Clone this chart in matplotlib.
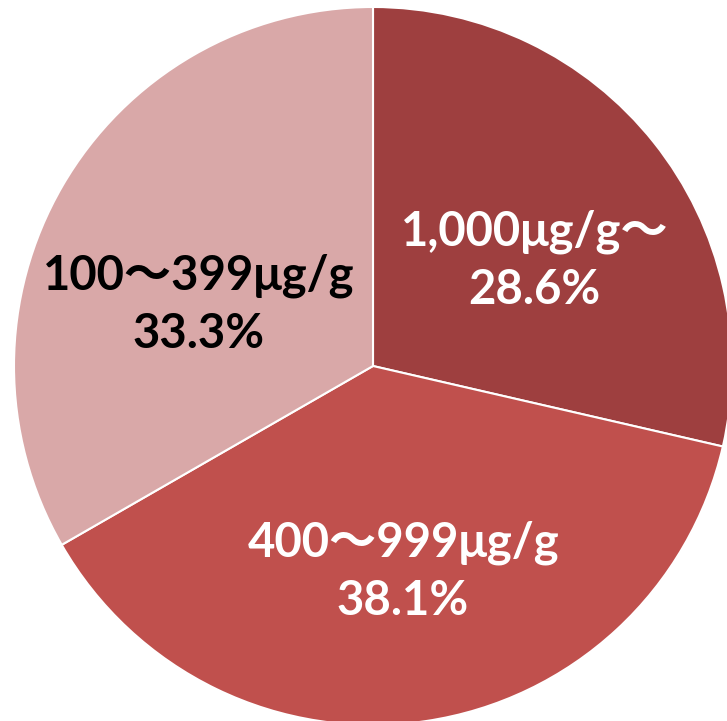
import matplotlib

matplotlib.use("Agg")
import matplotlib.pyplot as plt
import numpy as np

plt.rcParams["font.family"] = ["Lato", "Noto Sans CJK JP", "DejaVu Sans"]

labels = ["1,000μg/g～", "400～999μg/g", "100～399μg/g"]
shares = [28.6, 38.1, 33.3]
colors = ["#9E3F3F", "#C0504D", "#D9A8A8"]
text_colors = ["white", "white", "black"]

W, H = 727, 721
cx, cy, r = 373, 366, 359

fig = plt.figure(figsize=(W / 100, H / 100), dpi=100)
ax = fig.add_axes([0, 0, 1, 1])

wedges, _ = ax.pie(
    shares,
    colors=colors,
    startangle=90,
    counterclock=False,
    wedgeprops=dict(edgecolor="white", linewidth=1.5),
)

# label offsets, fraction of radius, adjusted by eye
dist = [0.55, 0.57, 0.52]
shift = [(0.02, -0.05), (0.0, -0.01), (-0.035, -0.09)]
for w, lab, val, c, d, (sx, sy) in zip(wedges, labels, shares, text_colors, dist, shift):
    mid = np.deg2rad((w.theta1 + w.theta2) / 2)
    ax.text(
        d * np.cos(mid) + sx,
        d * np.sin(mid) + sy,
        "{}\n{:.1f}%".format(lab, val),
        ha="center",
        va="center",
        color=c,
        fontsize=34,
        fontweight="bold",
        linespacing=1.4,
    )

ax.set_aspect("auto")
ax.set_xlim(-cx / r, (W - cx) / r)
ax.set_ylim(-(H - cy) / r, cy / r)
ax.axis("off")

fig.savefig("out.png", dpi=100)
